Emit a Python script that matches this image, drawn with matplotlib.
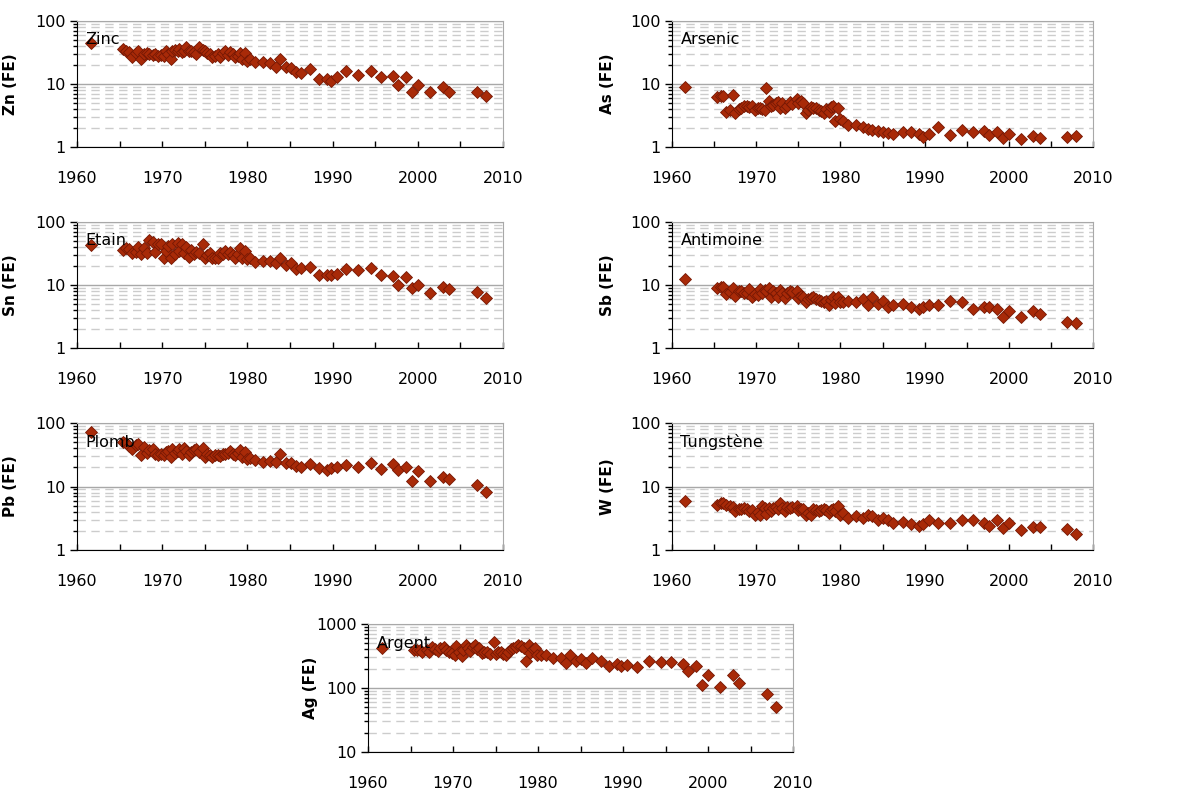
import matplotlib
matplotlib.use("Agg")
import matplotlib.pyplot as plt
from matplotlib.ticker import LogLocator, MultipleLocator, NullFormatter, FuncFormatter

# sampling dates (decimal years)
YEARS = [1961.6,
         1965.4, 1965.8, 1966.1, 1966.4, 1966.9, 1967.2, 1967.5, 1967.9, 1968.2, 1968.5,
         1968.9, 1969.2, 1969.5, 1969.9, 1970.2, 1970.4, 1970.7, 1971.0, 1971.2, 1971.5,
         1971.8, 1972.0, 1972.3, 1972.6, 1972.8, 1973.1, 1973.4, 1973.7, 1974.0, 1974.3,
         1974.8, 1975.0, 1975.3, 1975.6, 1975.9, 1976.2, 1976.5, 1976.8, 1977.1, 1977.4,
         1977.7, 1978.0, 1978.3, 1978.6, 1978.9, 1979.1, 1979.4, 1979.7, 1979.9, 1980.3,
         1980.9,
         1981.8, 1982.7, 1983.3, 1983.8, 1984.5, 1985.1, 1985.7, 1986.3, 1987.4, 1988.4,
         1989.3, 1989.8, 1990.5, 1991.6, 1993.0, 1994.5, 1995.7, 1997.1, 1997.7, 1998.6,
         1999.3, 2000.0, 2001.4, 2002.9, 2003.7, 2006.9, 2008.0]

# enrichment factors
ZN = [45,
      36, 33, 32, 27, 31, 33, 25, 29.5, 31, 30, 29, 30, 28, 29, 28, 34, 30, 25, 33, 35,
      33, 36, 32, 34, 39, 33, 34, 32, 29.5, 39, 35, 33, 31, 30, 27, 28, 30, 27, 31, 33,
      29, 32, 30, 27, 28, 31, 25, 31, 23, 25, 22,
      22, 21.5, 18.5, 24.5, 18.7, 18, 15.5, 15, 17.5, 12.2, 11.8, 11.2, 12.9, 16, 13.7,
      16, 13, 13.2, 9.8, 13, 7.6, 9.8, 7.4, 8.8, 7.6, 7.6, 6.4]

AS = [8.9,
      6.3, 6.5, 6.4, 3.65, 3.9, 6.7, 3.45, 4.0, 4.2, 4.4, 4.5, 4.3, 4.5, 3.9, 4.1, 4.2,
      4.0, 3.9, 8.5, 5.4, 4.5, 4.7, 4.95, 5.2, 4.1, 5.05, 4.1, 4.5, 5.25, 4.8, 5.7, 4.95,
      5.3, 5.05, 3.5, 3.9, 4.3, 4.1, 4.2, 3.8, 3.7, 3.45, 4.0, 3.65, 4.3, 4.5, 2.6, 4.1,
      2.77, 2.55, 2.25,
      2.25, 2.07, 1.92, 1.88, 1.77, 1.7, 1.66, 1.6, 1.7, 1.7, 1.6, 1.44, 1.6, 2.04, 1.57,
      1.83, 1.7, 1.77, 1.57, 1.7, 1.39, 1.6, 1.35, 1.5, 1.39, 1.44, 1.5]

SN = [43,
      36.5, 38, 37, 32.5, 34, 40, 30.5, 38, 32.5, 52, 48, 33.5, 44, 45, 27, 34.5, 41,
      26.5, 45.5, 31.5, 47, 35, 45.5, 32.5, 40, 28, 36.5, 31.5, 33.5, 32, 44.5, 27, 30,
      32.5, 26.5, 27, 26.5, 32.5, 31.5, 34.5, 31.5, 33.5, 30, 26.5, 30.5, 38, 27, 34.5,
      25.5, 27, 23.4,
      24, 24, 22, 27, 20.6, 22, 17.7, 18.3, 19.4, 14.4, 14.4, 14.4, 14.9, 17.7, 17.2,
      18.3, 14.4, 13.9, 10, 13.5, 8.9, 10, 7.6, 9.2, 8.5, 7.8, 6.2]

SB = [12.3,
      9.1, 9.2, 9.4, 7.1, 7.8, 8.9, 6.7, 8.1, 8.1, 7.6, 7.4, 8.5, 6.4, 7.2, 6.9, 8.6,
      7.5, 8.3, 7.9, 8.9, 6.5, 8.1, 7.6, 6.5, 8.3, 7.4, 6.3, 7.6, 8.1, 7.8, 8.1, 6.2,
      6.8, 6.5, 5.45, 5.9, 6.2, 6.5, 6.0, 5.8, 5.6, 5.45, 5.6, 4.8, 5.8, 6.5, 5.1, 6.5,
      5.45, 5.45, 5.65,
      5.3, 5.95, 4.8, 6.5, 5.0, 5.65, 4.55, 4.8, 5.0, 4.4, 4.1, 4.4, 4.8, 4.8, 5.65,
      5.3, 4.1, 4.55, 4.4, 4.1, 3.1, 3.9, 3.1, 3.8, 3.45, 2.57, 2.5]

PB = [72,
      50.5, 48, 44, 38.5, 45, 46, 31, 42, 34, 37, 38.5, 32.5, 31, 33, 31, 35, 36, 29.5,
      38.5, 34, 36, 38.5, 33, 41, 36, 31, 35, 37, 38.5, 35, 41, 29.5, 32, 31, 29.5, 31,
      31, 30, 32, 33, 34, 36, 33, 31, 34, 37, 29.5, 35, 27.5, 28.5, 26,
      24.5, 25.5, 24.5, 32.5, 23.7, 23.7, 21, 20, 23, 19.4, 18.2, 19.4, 20.5, 21.8, 20,
      23.7, 18.6, 22.3, 18.2, 20.5, 12.2, 17.5, 12.2, 14, 13, 10.6, 8.1]

W = [6.0,
     5.2, 5.4, 5.55, 5.1, 4.9, 4.75, 4.1, 4.35, 4.4, 4.6, 4.35, 4.1, 4.3, 3.6, 3.9, 3.6,
     4.9, 4.6, 3.7, 4.6, 4.1, 4.6, 4.8, 4.35, 5.4, 4.6, 4.1, 4.8, 4.6, 4.7, 5.0, 4.2,
     4.5, 4.35, 3.6, 3.8, 3.6, 4.35, 4.2, 4.1, 4.3, 4.35, 4.2, 3.77, 4.2, 4.45, 4.1, 4.9,
     3.6, 3.85, 3.2,
     3.4, 3.2, 3.6, 3.4, 2.96, 3.2, 3.0, 2.7, 2.78, 2.53, 2.38, 2.53, 3.0, 2.62, 2.62,
     3.0, 3.0, 2.62, 2.38, 2.96, 2.24, 2.62, 2.04, 2.3, 2.3, 2.16, 1.76]

AG = [420,
      395, 390, 395, 370, 395, 360, 445, 405, 385, 420, 435, 395, 360, 350, 330, 460,
      370, 320, 395, 470, 420, 385, 440, 470, 405, 420, 350, 360, 370, 345, 515, 345,
      370, 360, 345, 330, 370, 400, 420, 440, 470, 450, 420, 265, 470, 350, 405, 420,
      330, 330, 330,
      295, 295, 250, 330, 260, 280, 250, 295, 260, 222, 237, 222, 230, 215, 260, 255,
      255, 237, 187, 222, 111, 160, 105, 160, 121, 81, 51]

W_PX, H_PX = 1188, 791

# (values, y label, element name, axes box in pixels: left, top, right, bottom, y range)
PANELS = [
    (ZN, "Zn (FE)", "Zinc",      (77, 21, 503, 147),   (1, 100)),
    (AS, "As (FE)", "Arsenic",   (672, 21, 1093, 147), (1, 100)),
    (SN, "Sn (FE)", "Etain",     (77, 222, 503, 348),  (1, 100)),
    (SB, "Sb (FE)", "Antimoine", (672, 222, 1093, 348), (1, 100)),
    (PB, "Pb (FE)", "Plomb",     (77, 423, 503, 550),  (1, 100)),
    (W,  "W (FE)",  "Tungstène", (672, 423, 1093, 550), (1, 100)),
    (AG, "Ag (FE)", "Argent",    (368, 624, 793, 752), (10, 1000)),
]

TICK_FONT = ["Liberation Sans Narrow", "DejaVu Sans"]

fig = plt.figure(figsize=(W_PX / 100, H_PX / 100), dpi=100)

for vals, ylab, name, (x0, y0, x1, y1), ylim in PANELS:
    ax = fig.add_axes([x0 / W_PX, 1 - y1 / H_PX, (x1 - x0) / W_PX, (y1 - y0) / H_PX])
    ax.set_yscale("log")
    ax.set_ylim(*ylim)
    ax.set_xlim(1960, 2010)
    ax.set_axisbelow(True)

    ax.yaxis.set_major_locator(LogLocator(base=10))
    ax.yaxis.set_minor_locator(LogLocator(base=10, subs=range(2, 10)))
    ax.yaxis.set_major_formatter(FuncFormatter(lambda v, _: f"{v:g}"))
    ax.yaxis.set_minor_formatter(NullFormatter())
    ax.xaxis.set_major_locator(MultipleLocator(10))
    ax.xaxis.set_minor_locator(MultipleLocator(5))

    ax.grid(True, which="major", axis="y", color="#a8a8a8", lw=1.0)
    ax.grid(True, which="minor", axis="y", color="#cccccc", lw=1.0, ls=(0, (6, 4)))

    ax.tick_params(axis="y", which="major", direction="out", length=5, width=1, pad=3)
    ax.tick_params(axis="y", which="minor", direction="out", length=3, width=1)
    ax.tick_params(axis="x", which="both", direction="in", length=4, width=1, pad=17)

    for lab in ax.get_xticklabels() + ax.get_yticklabels():
        lab.set_fontfamily(TICK_FONT)
        lab.set_fontsize(11.5)

    for side in ("top", "right"):
        ax.spines[side].set_color("#a8a8a8")
    for side in ("left", "bottom"):
        ax.spines[side].set_color("black")

    ax.plot(YEARS, vals, ls="none", marker="D", ms=5.8,
            mfc="#a82a08", mec="#761804", mew=0.6, zorder=3)

    ax.text(0.02, 0.85, name, transform=ax.transAxes, fontsize=11.5,
            va="center", ha="left", color="#000000", zorder=4)

    ax.set_ylabel(ylab, fontsize=11, fontweight="bold")
    lx = -59 / (x1 - x0) if x0 < 600 else -57 / (x1 - x0)
    if name == "Argent":
        lx = -50 / (x1 - x0)
    ax.yaxis.set_label_coords(lx, 0.5)

fig.savefig("out.png", dpi=100)
